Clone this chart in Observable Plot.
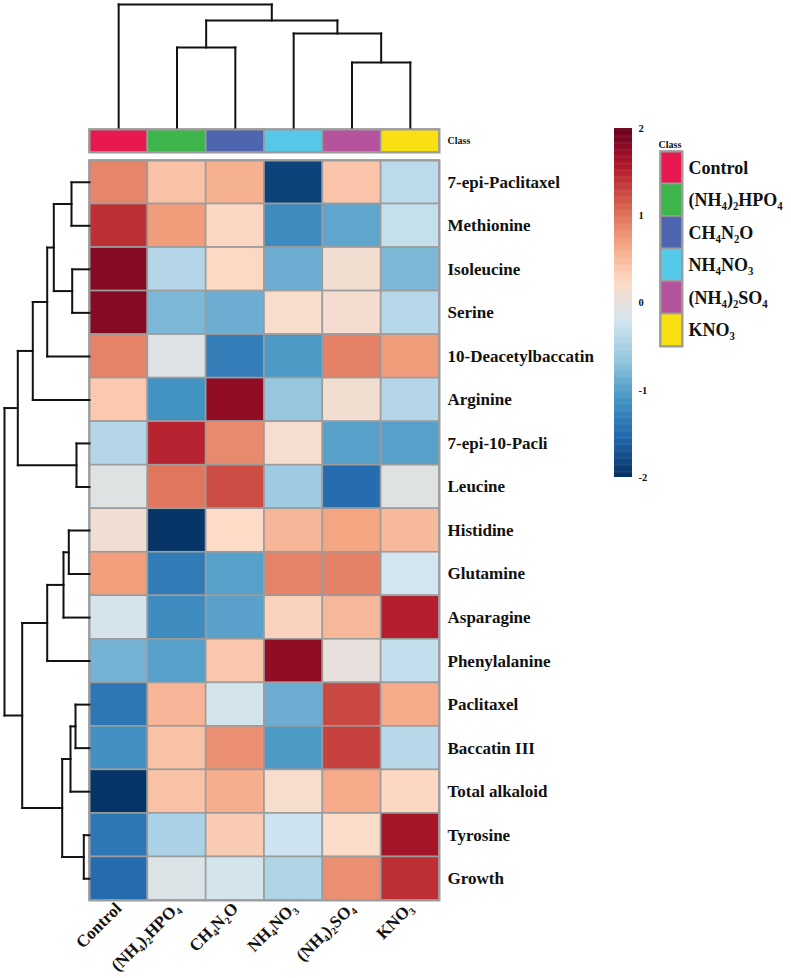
<!DOCTYPE html>
<html>
<head>
<meta charset="utf-8">
<script src="https://cdn.jsdelivr.net/npm/d3@7"></script>
<script src="https://cdn.jsdelivr.net/npm/@observablehq/plot@0.6"></script>
<style>
  html, body { margin: 0; padding: 0; background: #fff; }
  #chart { position: relative; width: 791px; height: 978px; overflow: hidden; }
</style>
</head>
<body>
<div id="chart"></div>
<script>
// ---------- data ----------
const columns = ["Control", "(NH₄)₂HPO₄", "CH₄N₂O", "NH₄NO₃", "(NH₄)₂SO₄", "KNO₃"];
const classColors = ["#e8194f", "#3db54a", "#4e65af", "#56c8e8", "#b5539c", "#f9e012"];
const rows = ["7-epi-Paclitaxel", "Methionine", "Isoleucine", "Serine", "10-Deacetylbaccatin",
  "Arginine", "7-epi-10-Pacli", "Leucine", "Histidine", "Glutamine", "Asparagine",
  "Phenylalanine", "Paclitaxel", "Baccatin III", "Total alkaloid", "Tyrosine", "Growth"];
const values = [
  [0.87, 0.43, 0.57, -1.85, 0.41, -0.38],
  [1.41, 0.72, 0.25, -1.19, -0.95, -0.31],
  [1.82, -0.43, 0.24, -0.88, 0.11, -0.78],
  [1.82, -0.79, -0.88, 0.17, 0.13, -0.42],
  [0.89, -0.11, -1.32, -1.06, 0.90, 0.72],
  [0.37, -1.12, 1.76, -0.64, 0.11, -0.43],
  [-0.43, 1.49, 0.84, 0.14, -1.00, -1.00],
  [-0.08, 0.97, 1.23, -0.58, -1.49, -0.08],
  [0.10, -1.96, 0.22, 0.53, 0.66, 0.50],
  [0.71, -1.34, -1.00, 0.89, 0.90, -0.20],
  [-0.18, -1.19, -0.99, 0.30, 0.52, 1.52],
  [-0.83, -1.00, 0.39, 1.76, 0.00, -0.32],
  [-1.39, 0.54, -0.19, -0.88, 1.26, 0.62],
  [-1.13, 0.44, 0.81, -1.05, 1.30, -0.40],
  [-1.97, 0.44, 0.59, 0.15, 0.62, 0.25],
  [-1.39, -0.50, 0.35, -0.25, 0.20, 1.63],
  [-1.50, -0.12, -0.19, -0.46, 0.81, 1.42]
];
// column dendrogram merges: [childA, childB, height]; leaves 0..5, clusters numbered from 6
const colMerges = [[4, 5, 65], [1, 2, 80], [3, 6, 94], [7, 8, 107], [0, 9, 123]];
// row dendrogram merges: leaves 0..16, clusters numbered from 17
const rowMerges = [
  [0, 1, 18], [2, 3, 17.3], [17, 18, 35.7], [19, 4, 42.3], [20, 5, 56.7],
  [6, 7, 13], [21, 22, 71.7], [8, 9, 20.7], [24, 10, 26], [25, 11, 42.3],
  [12, 13, 14], [27, 14, 19], [15, 16, 5.7], [28, 29, 27.3], [26, 30, 67.3], [23, 31, 85]
];
const colorTicks = [-2, -1, 0, 1, 2];
const palette = ["#053061", "#2166ac", "#4393c3", "#92c5de", "#d1e5f0",
  "#fddbc7", "#f4a582", "#d6604d", "#b2182b", "#67001f"];

// ---------- helpers ----------
const W = 791, H = 978;
const font = "'Liberation Serif', 'Times New Roman', serif";
const baseStyle = {position: "absolute", left: "0px", top: "0px", background: "transparent",
  fontFamily: font, fontWeight: "bold", color: "#111", overflow: "visible"};
const interp = d3.piecewise(d3.interpolateRgb, palette);
const grid = "#9c9c9c";

function dendro(merges, n) {
  const pos = d3.range(n), hgt = new Array(n).fill(0), segs = [];
  for (const [a, b, h] of merges) {
    segs.push({p1: pos[a], h1: hgt[a], p2: pos[a], h2: h});
    segs.push({p1: pos[a], h1: h, p2: pos[b], h2: h});
    segs.push({p1: pos[b], h1: hgt[b], p2: pos[b], h2: h});
    pos.push((pos[a] + pos[b]) / 2);
    hgt.push(h);
  }
  return segs;
}

const cells = [];
rows.forEach((r, i) => columns.forEach((c, j) => cells.push({row: r, col: c, value: values[i][j]})));
const chart = document.getElementById("chart");

// ---------- heatmap ----------
chart.append(Plot.plot({
  width: W, height: H,
  marginLeft: 89, marginRight: W - 439, marginTop: 160, marginBottom: H - 900,
  style: baseStyle,
  x: {domain: columns, padding: 0, round: false, axis: null},
  y: {domain: rows, padding: 0, round: false, axis: null},
  color: {type: "linear", domain: [-2, 2], interpolate: interp, clamp: true},
  marks: [
    Plot.cell(cells, {x: "col", y: "row", fill: "value", stroke: grid, strokeWidth: 1.6, inset: 0}),
    Plot.frame({stroke: grid, strokeWidth: 2}),
    Plot.axisY({anchor: "right", tickSize: 0, tickPadding: 8, fontSize: 17, fontWeight: "bold", label: null}),
    Plot.axisX({anchor: "bottom", tickSize: 0, tickPadding: 5, tickRotate: -45, fontSize: 17, fontWeight: "bold", label: null})
  ]
}));

// ---------- class bar ----------
chart.append(Plot.plot({
  width: W, height: H,
  marginLeft: 89, marginRight: W - 439, marginTop: 129, marginBottom: H - 152,
  style: baseStyle,
  x: {domain: columns, padding: 0, round: false, axis: null},
  y: {domain: ["Class"], padding: 0, round: false, axis: null},
  color: {domain: columns, range: classColors},
  marks: [
    Plot.cell(columns, {x: d => d, y: () => "Class", fill: d => d, stroke: grid, strokeWidth: 1.6, inset: 0}),
    Plot.frame({stroke: grid, strokeWidth: 2}),
    Plot.axisY({anchor: "right", tickSize: 0, tickPadding: 8, fontSize: 10, fontWeight: "bold", label: null})
  ]
}));

// ---------- column dendrogram ----------
chart.append(Plot.plot({
  width: W, height: H,
  marginLeft: 89, marginRight: W - 439, marginTop: 4, marginBottom: H - 127,
  style: baseStyle,
  x: {type: "linear", domain: [-0.5, columns.length - 0.5], axis: null},
  y: {type: "linear", domain: [0, 123], axis: null},
  marks: [
    Plot.link(dendro(colMerges, columns.length), {x1: "p1", y1: "h1", x2: "p2", y2: "h2",
      stroke: "#111", strokeWidth: 2, strokeLinecap: "square"})
  ]
}));

// ---------- row dendrogram ----------
chart.append(Plot.plot({
  width: W, height: H,
  marginLeft: 4, marginRight: W - 89, marginTop: 160, marginBottom: H - 900,
  style: baseStyle,
  x: {type: "linear", domain: [85, 0], axis: null},
  y: {type: "linear", domain: [rows.length - 0.5, -0.5], axis: null},
  marks: [
    Plot.link(dendro(rowMerges, rows.length), {x1: "h1", y1: "p1", x2: "h2", y2: "p2",
      stroke: "#111", strokeWidth: 2, strokeLinecap: "square"})
  ]
}));

// ---------- color bar ----------
const step = 0.01;
const ramp = d3.range(-2, 2, step).map(v => ({v0: v, v1: Math.min(2, v + step * 1.6), c: v + step / 2}));
chart.append(Plot.plot({
  width: W, height: H,
  marginLeft: 614, marginRight: W - 632, marginTop: 128, marginBottom: H - 477,
  style: baseStyle,
  x: {type: "linear", domain: [0, 1], axis: null},
  y: {type: "linear", domain: [-2, 2], axis: null},
  color: {type: "linear", domain: [-2, 2], interpolate: interp, clamp: true},
  marks: [
    Plot.rect(ramp, {x1: 0, x2: 1, y1: "v0", y2: "v1", fill: "c", inset: 0}),
    Plot.axisY(colorTicks, {anchor: "right", tickSize: 0, tickPadding: 6, fontSize: 10.5, fontWeight: "bold", label: null, tickFormat: d => d})
  ]
}));

// ---------- class legend ----------
chart.append(Plot.plot({
  width: W, height: H,
  marginLeft: 660, marginRight: W - 682, marginTop: 151, marginBottom: H - 346,
  style: baseStyle,
  x: {domain: ["Class"], padding: 0, round: false, axis: null},
  y: {domain: columns, padding: 0, round: false, axis: null},
  color: {domain: columns, range: classColors},
  marks: [
    Plot.cell(columns, {x: () => "Class", y: d => d, fill: d => d, stroke: grid, strokeWidth: 1.6, inset: 0}),
    Plot.frame({stroke: grid, strokeWidth: 2}),
    Plot.axisY({anchor: "right", tickSize: 0, tickPadding: 6, fontSize: 18, fontWeight: "bold", label: null}),
    Plot.text(["Class"], {frameAnchor: "top-left", text: d => d, dy: -11, dx: -2, textAnchor: "start", fontSize: 10, fontWeight: "bold"})
  ]
}));
</script>
</body>
</html>
